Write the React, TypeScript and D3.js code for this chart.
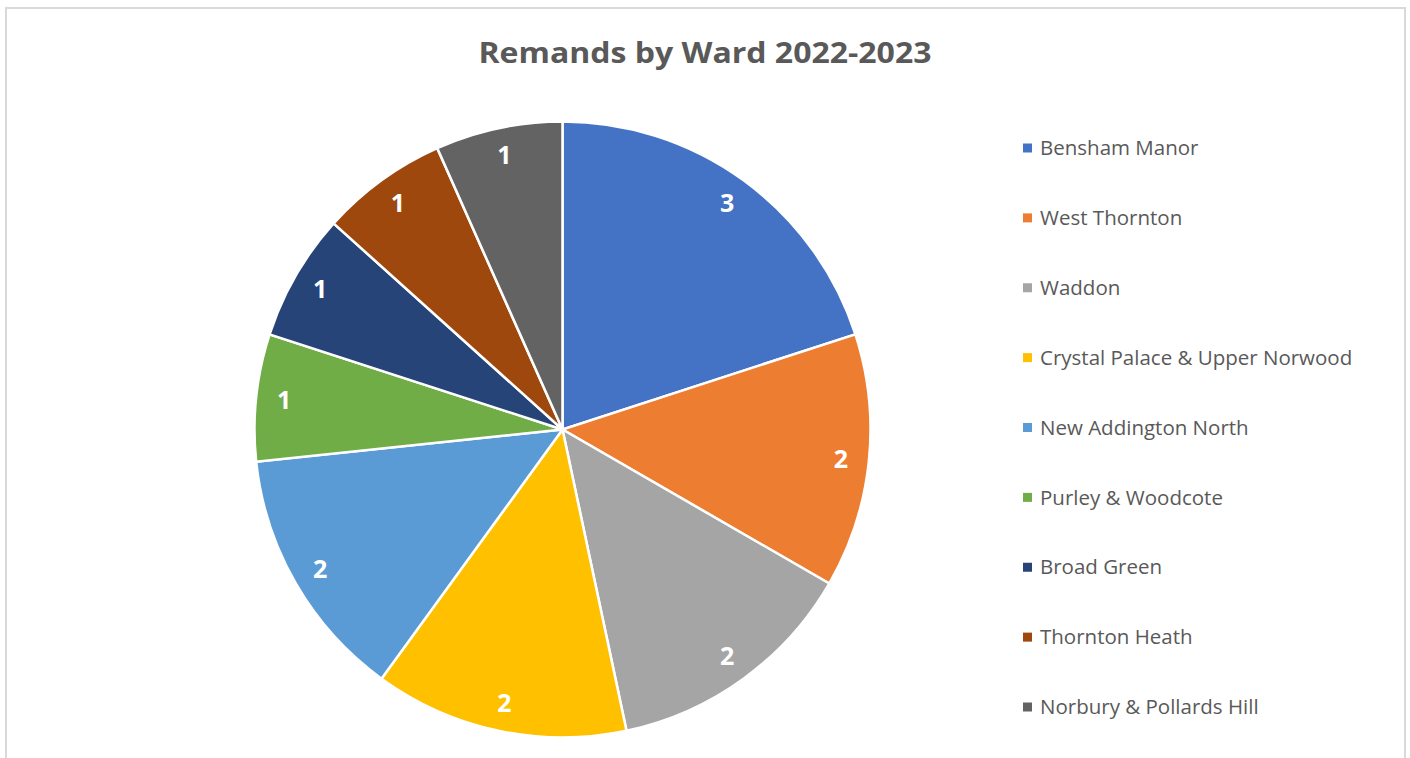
import React from 'react';
import * as d3 from 'd3';

const wards = [
  'Bensham Manor',
  'West Thornton',
  'Waddon',
  'Crystal Palace & Upper Norwood',
  'New Addington North',
  'Purley & Woodcote',
  'Broad Green',
  'Thornton Heath',
  'Norbury & Pollards Hill',
];
const remands = [3, 2, 2, 2, 2, 1, 1, 1, 1];
const palette = ['#4472C4', '#ED7D31', '#A5A5A5', '#FFC000', '#5B9BD5', '#70AD47', '#264478', '#9E480E', '#636363'];

const W = 1410;
const H = 758;
const cx = 562.5;
const cy = 429.5;
const radius = 308;

const App: React.FC = () => {
  const data = wards.map((name, i) => ({ name, value: remands[i] }));
  const pie = d3.pie<any>().value((d) => d.value).sort(null);
  const arcs = pie(data);
  const arc = d3.arc<any>().innerRadius(0).outerRadius(radius);
  const labelArc = d3.arc<any>().innerRadius(280).outerRadius(280);
  const color = d3.scaleOrdinal<string, string>().domain(wards).range(palette);
  const legendY = d3.scalePoint<string>().domain(wards).range([148, 707]);

  return (
    <svg
      width={W}
      height={H}
      style={{ position: 'absolute', left: 0, top: 0, background: '#fff' }}
      fontFamily="'Open Sans', sans-serif"
    >
      <rect x={6} y={8} width={1399} height={770} fill="#fff" stroke="#d9d9d9" strokeWidth={2} />
      <text x={705} y={63} textAnchor="middle" fontSize={29} fontWeight="bold" fill="#595959" textLength={453} lengthAdjust="spacingAndGlyphs">
        Remands by Ward 2022-2023
      </text>
      <g transform={`translate(${cx},${cy})`}>
        {arcs.map((a, i) => (
          <path key={i} d={arc(a) as string} fill={color(a.data.name)} stroke="#fff" strokeWidth={2.5} />
        ))}
        {arcs.map((a, i) => {
          const [x, y] = labelArc.centroid(a);
          return (
            <text key={i} x={x} y={y} dy="0.35em" textAnchor="middle" fontSize={25} fontWeight="bold" fill="#fff">
              {a.data.value}
            </text>
          );
        })}
      </g>
      <g>
        {wards.map((w) => (
          <g key={w} transform={`translate(1023,${legendY(w)})`}>
            <rect x={0} y={-4.5} width={9} height={9} fill={color(w)} />
            <text x={17} y={0} dy="0.35em" fontSize={20.5} fill="#595959">
              {w}
            </text>
          </g>
        ))}
      </g>
    </svg>
  );
};

export default App;
